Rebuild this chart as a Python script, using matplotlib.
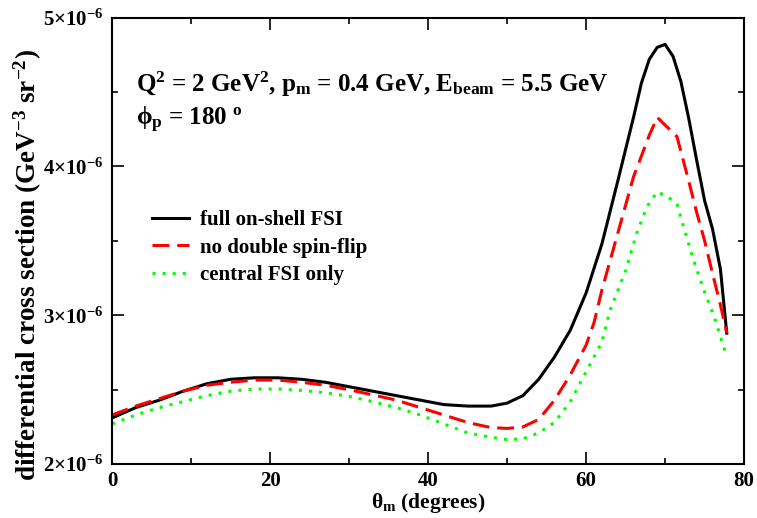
import matplotlib
matplotlib.use("Agg")
import matplotlib.pyplot as plt
import numpy as np
from matplotlib.ticker import MultipleLocator, FuncFormatter

plt.rcParams['font.family'] = ['Liberation Serif', 'DejaVu Serif']
plt.rcParams['font.weight'] = 'bold'
plt.rcParams['mathtext.fontset'] = 'custom'
plt.rcParams['mathtext.rm'] = 'Liberation Serif:bold'
plt.rcParams['mathtext.it'] = 'Liberation Serif:bold'
plt.rcParams['mathtext.bf'] = 'Liberation Serif:bold'

# theta_m (degrees) and cross sections in units of 1e-6 GeV^-3 sr^-2
x_full = [0, 3, 6, 9, 12, 15, 18, 21, 24, 27, 30, 33, 36, 39, 42, 45, 48, 50, 52, 54,
          56, 58, 60, 62, 64, 66, 67, 68, 69, 70, 71, 72, 73, 74, 75, 76, 77, 77.8]
y_full = [2.31, 2.38, 2.43, 2.49, 2.54, 2.57, 2.58, 2.58, 2.57, 2.55, 2.52, 2.49, 2.46,
          2.43, 2.40, 2.39, 2.39, 2.41, 2.46, 2.57, 2.72, 2.90, 3.15, 3.48, 3.90, 4.33,
          4.56, 4.72, 4.80, 4.82, 4.74, 4.57, 4.32, 4.04, 3.77, 3.58, 3.31, 2.88]

x_nodbl = [0, 3, 6, 9, 12, 15, 18, 21, 24, 27, 30, 33, 36, 39, 42, 45, 48, 50, 52, 54,
           56, 58, 60, 61, 62, 64, 66, 68, 69, 71.5, 73, 74, 75, 76, 77, 77.8]
y_nodbl = [2.33, 2.39, 2.44, 2.49, 2.53, 2.55, 2.565, 2.565, 2.55, 2.53, 2.50, 2.465,
           2.43, 2.38, 2.33, 2.28, 2.245, 2.24, 2.25, 2.30, 2.43, 2.60, 2.80, 2.95, 3.17,
           3.55, 3.93, 4.21, 4.33, 4.20, 3.90, 3.69, 3.50, 3.28, 3.07, 2.88]

x_central = [0, 3, 6, 9, 12, 15, 18, 21, 24, 27, 30, 33, 36, 39, 42, 45, 48, 50, 52, 54,
             56, 58, 60, 62, 63, 65, 66.4, 67.7, 69, 70.2, 71.5, 72.3, 73.6, 74.9, 76.2,
             77.4, 77.8]
y_central = [2.27, 2.33, 2.38, 2.42, 2.46, 2.49, 2.505, 2.505, 2.495, 2.48, 2.455, 2.42,
             2.38, 2.33, 2.27, 2.21, 2.18, 2.165, 2.17, 2.21, 2.28, 2.42, 2.62, 2.82,
             3.03, 3.30, 3.55, 3.73, 3.83, 3.80, 3.75, 3.60, 3.37, 3.17, 2.99, 2.79, 2.72]

labels = ['full on-shell FSI', 'no double spin-flip', 'central FSI only']

fig = plt.figure(figsize=(7.57, 5.18), dpi=100)
ax = fig.add_axes([0.148, 0.104, 0.835, 0.862])

ax.plot(x_full, np.array(y_full) * 1e-6, color='black', lw=2.2, label=labels[0])
ax.plot(x_nodbl, np.array(y_nodbl) * 1e-6, color='#ff0000', lw=2.2,
        dashes=(5.5, 2.6), label=labels[1])
ax.plot(x_central, np.array(y_central) * 1e-6, color='#00ff00', lw=2.2,
        linestyle=(0, (1, 2.3)), label=labels[2])

ax.set_xlim(0, 80)
ax.set_ylim(2e-6, 5e-6)
ax.xaxis.set_major_locator(MultipleLocator(20))
ax.xaxis.set_minor_locator(MultipleLocator(10))
ax.yaxis.set_major_locator(MultipleLocator(1e-6))
ax.yaxis.set_minor_locator(MultipleLocator(0.5e-6))
ax.yaxis.set_major_formatter(FuncFormatter(
    lambda v, p: r'$%d{\times}10^{-6}$' % round(v * 1e6)))
ax.tick_params(which='both', direction='in', top=True, right=True,
               labelsize=15, width=1.2)
ax.tick_params(which='major', length=8.5, pad=6)
ax.tick_params(axis='x', which='major', pad=5)
ax.tick_params(which='minor', length=4.5)
for s in ax.spines.values():
    s.set_linewidth(1.5)

ax.set_xlabel(r'$\theta_{m}$ (degrees)', fontsize=15.5, fontweight='bold')
ax.xaxis.set_label_coords(0.5, -0.061)
ax.set_ylabel(r'differential cross section (GeV$^{-3}$ sr$^{-2}$)',
              fontsize=19.5, fontweight='bold')
ax.yaxis.set_label_coords(-0.107, 0.445)

ax.text(3, 4.5e-6, r'Q$^{2}$ = 2 GeV$^{2}$, p$_{m}$ = 0.4 GeV, E$_{beam}$ = 5.5 GeV',
        fontsize=18, fontweight='bold')
ax.text(3, 4.278e-6, r'$\phi_{p}$ = 180 $^{o}$', fontsize=18, fontweight='bold')

ax.legend(loc='upper left', bbox_to_anchor=(0.063, 0.569), frameon=False,
          borderaxespad=0, borderpad=0, handlelength=1.8, handletextpad=0.5,
          labelspacing=0.37, prop={'size': 15, 'weight': 'bold'})

fig.savefig('out.png', dpi=100)
